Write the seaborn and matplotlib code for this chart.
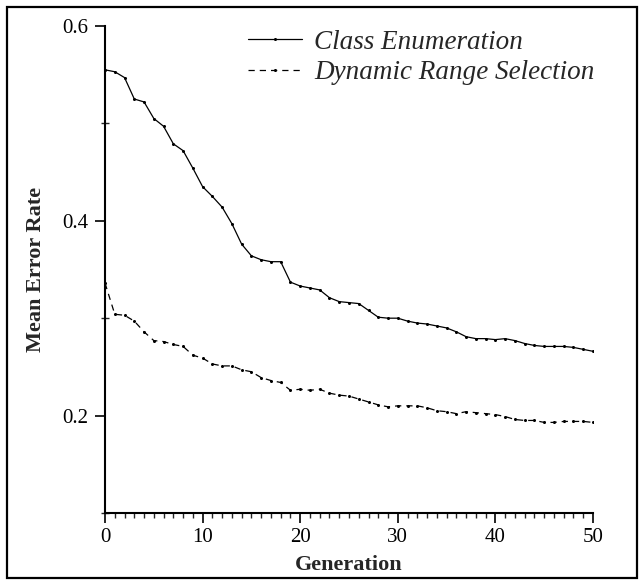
import numpy as np
import pandas as pd
import seaborn as sns
import matplotlib.pyplot as plt
from matplotlib.patches import Rectangle
from matplotlib.lines import Line2D
from matplotlib.ticker import MultipleLocator

# data
generation = list(range(51))
class_enum = [0.555, 0.553, 0.547, 0.525, 0.522, 0.505, 0.497, 0.479, 0.472, 0.454,
              0.435, 0.425, 0.414, 0.397, 0.376, 0.364, 0.360, 0.358, 0.358, 0.337,
              0.333, 0.331, 0.329, 0.321, 0.317, 0.316, 0.315, 0.308, 0.301, 0.300,
              0.300, 0.297, 0.295, 0.294, 0.292, 0.290, 0.286, 0.281, 0.279, 0.279,
              0.278, 0.279, 0.277, 0.274, 0.272, 0.271, 0.271, 0.271, 0.270, 0.268,
              0.266]
dyn_range = [0.336, 0.304, 0.303, 0.297, 0.286, 0.277, 0.276, 0.273, 0.271, 0.262,
             0.259, 0.253, 0.251, 0.251, 0.247, 0.245, 0.239, 0.236, 0.234, 0.226,
             0.227, 0.226, 0.227, 0.223, 0.221, 0.220, 0.217, 0.214, 0.211, 0.209,
             0.210, 0.210, 0.210, 0.208, 0.205, 0.204, 0.202, 0.204, 0.203, 0.202,
             0.201, 0.199, 0.196, 0.195, 0.195, 0.193, 0.193, 0.194, 0.194, 0.194,
             0.193]
labels = ["Class Enumeration", "Dynamic Range Selection"]

df = pd.DataFrame({
    "Generation": generation * 2,
    "Mean Error Rate": class_enum + dyn_range,
    "method": [labels[0]] * len(generation) + [labels[1]] * len(generation),
})

sns.set_style("ticks")
plt.rcParams["font.family"] = ["Liberation Serif", "DejaVu Serif"]

fig = plt.figure(figsize=(6.42, 5.85), dpi=100)
ax = fig.add_axes([0.1636, 0.1231, 0.760, 0.8325])

sns.lineplot(data=df, x="Generation", y="Mean Error Rate", style="method",
             dashes={labels[0]: "", labels[1]: (5, 4)},
             markers={labels[0]: "o", labels[1]: "o"},
             color="black", linewidth=0.9, markersize=2.2, markeredgewidth=0,
             legend=False, ax=ax)

ax.set_xlim(0, 50)
ax.set_ylim(0.1, 0.6)
ax.xaxis.set_major_locator(MultipleLocator(10))
ax.xaxis.set_minor_locator(MultipleLocator(1))
ax.yaxis.set_minor_locator(MultipleLocator(0.1))
ax.set_yticks([0.2, 0.4, 0.6])
ax.set_yticklabels(["0.2", "0.4", "0.6"])

ax.tick_params(axis="both", which="major", direction="out", length=7,
               width=1.2, labelsize=15, colors="black")
ax.tick_params(axis="y", which="major", pad=5)
ax.tick_params(axis="x", which="minor", direction="out", length=3.5, width=1.0)
ax.tick_params(axis="y", which="minor", direction="inout", length=6, width=1.0)

for side in ["top", "right"]:
    ax.spines[side].set_visible(False)
for side in ["left", "bottom"]:
    ax.spines[side].set_linewidth(1.5)
    ax.spines[side].set_color("black")

ax.set_xlabel("Generation", fontsize=16, fontweight="bold", labelpad=6)
ax.set_ylabel("Mean Error Rate", fontsize=16, fontweight="bold", labelpad=12)

handles = [
    Line2D([], [], color="black", linewidth=0.9, marker="o", markersize=2.2,
           markeredgewidth=0),
    Line2D([], [], color="black", linewidth=0.9, linestyle=(0, (5, 4)),
           marker="o", markersize=2.2, markeredgewidth=0),
]
leg = ax.legend(handles, labels, loc="upper left", bbox_to_anchor=(0.293, 0.992),
                borderaxespad=0, borderpad=0, frameon=False, numpoints=1,
                handlelength=2.0, handletextpad=0.45, labelspacing=0.2,
                prop={"family": "Liberation Serif", "style": "italic", "size": 19.5})

fig.patches.append(Rectangle((0.011, 0.012), 0.981, 0.976, transform=fig.transFigure,
                             fill=False, edgecolor="black", linewidth=1.6))

fig.savefig("out.png", dpi=100)
